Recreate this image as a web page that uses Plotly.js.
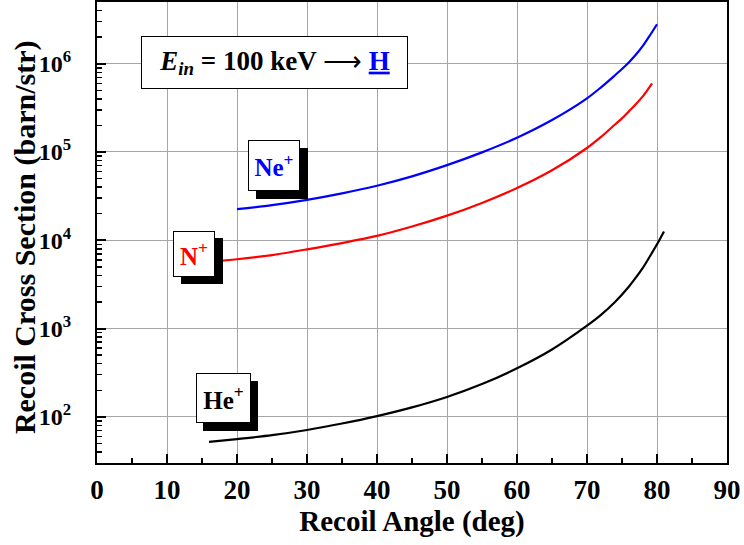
<!DOCTYPE html>
<html>
<head>
<meta charset="utf-8">
<script src="https://cdn.plot.ly/plotly-3.0.1.min.js"></script>
<style>
html,body{margin:0;padding:0;background:#fff;overflow:hidden;}
#chart{width:744px;height:545px;}
</style>
</head>
<body>
<div id="chart"></div>
<script>
// Recoil angle (deg) and cross sections (barn/str)
const angleNe = [20, 25, 30, 35, 40, 45, 50, 55, 60, 65, 70, 72, 74, 75, 76, 77, 78, 79, 80];
const sigmaNe = [22500, 25000, 28700, 34000, 41500, 53000, 71000, 99000, 145000, 230000, 405000, 540000, 740000, 870000, 1040000, 1270000, 1600000, 2100000, 2800000];

const angleN = [16, 20, 25, 30, 35, 40, 45, 50, 55, 60, 65, 70, 72, 74, 75, 76, 77, 78, 79.3];
const sigmaN = [5700, 6100, 6800, 7900, 9300, 11200, 14300, 19000, 26500, 39000, 62000, 111000, 148000, 205000, 240000, 290000, 350000, 430000, 600000];

const angleHe = [16, 20, 25, 30, 35, 40, 45, 50, 55, 60, 65, 70, 72, 74, 76, 77, 78, 79, 80, 81];
const sigmaHe = [52, 56, 62, 71, 84, 102, 128, 168, 235, 355, 580, 1080, 1430, 2000, 3000, 3800, 4900, 6600, 9000, 12600];

const xTickVals = [0, 10, 20, 30, 40, 50, 60, 70, 80, 90];
const yTickVals = [1e2, 1e3, 1e4, 1e5, 1e6];
const yTickText = ['10<sup>2</sup>', '10<sup>3</sup>', '10<sup>4</sup>', '10<sup>5</sup>', '10<sup>6</sup>'];

const serif = 'Liberation Serif, Times New Roman, serif';

function curve(x, y, color, name) {
  return {
    x: x, y: y, type: 'scatter', mode: 'lines', name: name,
    line: {color: color, width: 2.2, shape: 'spline', smoothing: 0.8},
    hoverinfo: 'x+y'
  };
}

const data = [
  curve(angleHe, sigmaHe, '#000000', 'He+'),
  curve(angleN, sigmaN, '#ff0000', 'N+'),
  curve(angleNe, sigmaNe, '#0000ff', 'Ne+')
];

function labelBox(text, color, x, y, w, h) {
  const common = {
    text: text, x: x, y: y, xref: 'x', yref: 'y', showarrow: false,
    width: w, height: h, borderpad: 1, borderwidth: 1,
    xanchor: 'center', yanchor: 'middle'
  };
  const shadow = Object.assign({}, common, {
    font: {family: serif, size: 25, color: '#000', weight: 'bold'},
    bgcolor: '#000', bordercolor: '#000', xshift: 7.5, yshift: -7.5
  });
  const box = Object.assign({}, common, {
    font: {family: serif, size: 25, color: color, weight: 'bold'},
    bgcolor: '#fff', bordercolor: '#000'
  });
  return [shadow, box];
}

const annotations = [].concat(
  labelBox('Ne<sup>+</sup>', '#0000ff', 25.3, 4.847, 48, 47),
  labelBox('N<sup>+</sup>', '#ff0000', 13.86, 3.849, 38, 42),
  labelBox('He<sup>+</sup>', '#000000', 18.03, 2.208, 51, 46),
  [{
    text: "<i>E</i><sub><i>in</i></sub> = 100 keV <span style='font-weight:normal'>⟶</span> <span style='color:#0000ff'><u>H</u></span>",
    x: 25.33, y: 6.009, xref: 'x', yref: 'y', showarrow: false,
    width: 263, height: 49, borderpad: 1, borderwidth: 1,
    bgcolor: '#fff', bordercolor: '#000',
    font: {family: serif, size: 27, color: '#000', weight: 'bold'}
  },
  {
    // y-axis title
    text: 'Recoil Cross Section (barn/str)',
    xref: 'paper', yref: 'paper', x: 0, y: 0.49, xshift: -72,
    xanchor: 'center', yanchor: 'middle', textangle: -90, showarrow: false,
    font: {family: serif, size: 30, color: '#000', weight: 'bold'}
  }]
);

const layout = {
  width: 744, height: 545,
  margin: {l: 97, r: 17, t: 2, b: 82},
  paper_bgcolor: '#fff', plot_bgcolor: '#fff',
  showlegend: false,
  font: {family: serif, color: '#000', weight: 'bold'},
  xaxis: {
    range: [0, 90],
    tickvals: xTickVals,
    ticktext: xTickVals.map(String),
    ticks: 'inside', ticklen: 9, tickwidth: 2, tickcolor: '#000',
    minor: {dtick: 5, ticks: 'inside', ticklen: 5, tickwidth: 1.5, tickcolor: '#000', showgrid: false},
    showline: true, linewidth: 2, linecolor: '#000', mirror: true,
    showgrid: true, gridcolor: '#a6a6a6', gridwidth: 1,
    zeroline: false,
    tickfont: {family: serif, size: 27, color: '#000', weight: 'bold'},
    ticklabelstandoff: 2,
    title: {text: 'Recoil Angle (deg)', font: {family: serif, size: 29, color: '#000', weight: 'bold'}, standoff: 6}
  },
  yaxis: {
    type: 'log',
    range: [Math.log10(30), Math.log10(5e6)],
    tickvals: yTickVals,
    ticktext: yTickText,
    ticks: 'inside', ticklen: 9, tickwidth: 2, tickcolor: '#000',
    minor: {dtick: 'D1', ticks: 'inside', ticklen: 5, tickwidth: 1.5, tickcolor: '#000', showgrid: false},
    showline: true, linewidth: 2, linecolor: '#000', mirror: true,
    showgrid: true, gridcolor: '#a6a6a6', gridwidth: 1,
    zeroline: false,
    tickfont: {family: serif, size: 24, color: '#000', weight: 'bold'},
    ticklabelstandoff: 19
  },
  annotations: annotations
};

Plotly.newPlot('chart', data, layout, {displayModeBar: false, staticPlot: true});
</script>
</body>
</html>
